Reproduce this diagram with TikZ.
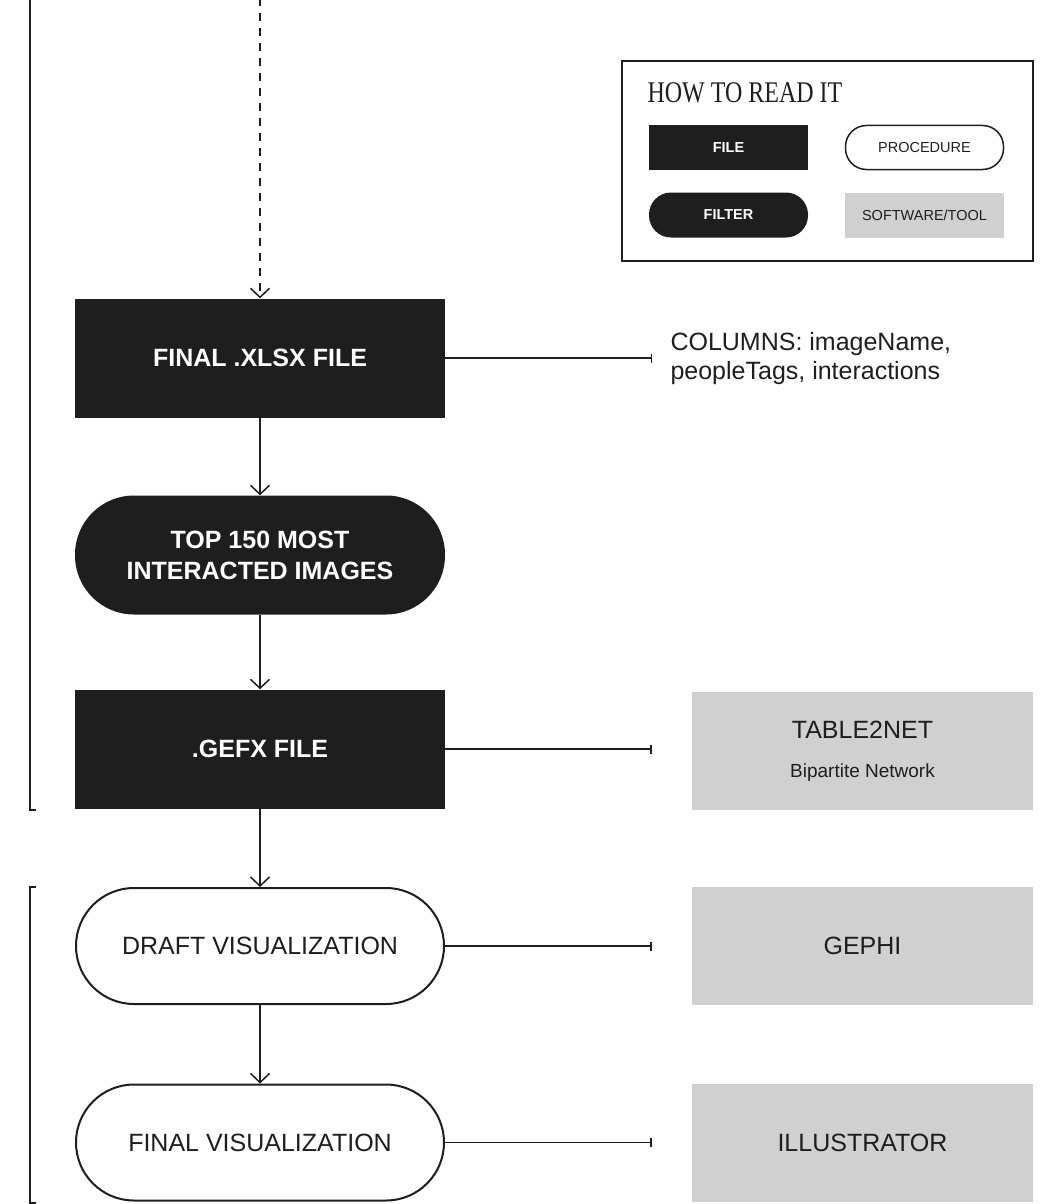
\documentclass[tikz,border=0pt]{standalone}
\usepackage{fontspec}
\setmainfont{Liberation Sans}
\newfontfamily\headfont[FakeStretch=0.8]{Liberation Serif}
\usetikzlibrary{positioning,arrows.meta}
\definecolor{flowInk}{HTML}{1E1E1E}
\definecolor{flowGrey}{HTML}{D0D0D0}

\begin{document}
\begin{tikzpicture}[x=1pt,y=-1pt,
          file/.style={rectangle, fill=flowInk, text=white, inner sep=0pt,
                    font=\fontsize{25}{31}\selectfont\bfseries,
                    minimum width=370pt, minimum height=119pt},
          filter/.style={file, rounded corners=59pt},
          proc/.style={rectangle, rounded corners=58pt, draw=flowInk, line width=2pt,
                    fill=white, text=flowInk, inner sep=0pt,
                    font=\fontsize{25}{31}\selectfont,
                    minimum width=368pt, minimum height=116pt},
          tool/.style={rectangle, fill=flowGrey, text=flowInk, inner sep=0pt,
                    font=\fontsize{25}{31}\selectfont,
                    minimum width=341pt, minimum height=118pt},
          keyfile/.style={rectangle, fill=flowInk, text=white, inner sep=0pt,
                    font=\fontsize{14.5}{17}\selectfont\bfseries,
                    minimum width=159pt, minimum height=45pt},
          keyfilter/.style={keyfile, rounded corners=22pt},
          keyproc/.style={rectangle, rounded corners=21pt, draw=flowInk, line width=1.5pt,
                    text=flowInk, inner sep=0pt, font=\fontsize{14.5}{17}\selectfont,
                    minimum width=158pt, minimum height=44pt},
          keytool/.style={rectangle, fill=flowGrey, text=flowInk, inner sep=0pt,
                    font=\fontsize{14.5}{17}\selectfont,
                    minimum width=159pt, minimum height=45pt},
          flow/.style={draw=flowInk, line width=1.5pt,
                    -{Straight Barb[length=9pt,width=19pt]}},
          link/.style={draw=flowInk, line width=1.5pt, -{Bar[width=9pt]}},
          every node/.style={align=center}]
        \useasboundingbox (0,0) rectangle (1057,1204);

        % key
        \node[draw=flowInk, line width=1.5pt, minimum width=411pt, minimum height=200pt,
              inner sep=0pt] (key) at (827.5,161) {};
        \node[anchor=base west, text=flowInk, font=\headfont\fontsize{30}{32}\selectfont]
              (keytitle) at (644,103) {HOW TO READ IT};
        \node[keyfile]   (kfile)   at (728.5,147.5) {FILE};
        \node[keyproc]   (kproc)   at (924.5,147.5) {PROCEDURE};
        \node[keyfilter] (kfilter) at (728.5,215)   {FILTER};
        \node[keytool]   (ktool)   at (924.5,215)   {SOFTWARE/TOOL};

        % main chain
        \coordinate (above) at (260,-2);
        \node[file]   (xlsx)  at (260,358)    {FINAL .XLSX FILE};
        \node[filter] (top)   at (260,555)    {TOP 150 MOST\\INTERACTED IMAGES};
        \node[file]   (gefx)  at (260,749)    {.GEFX FILE};
        \node[proc]   (draft) at (260,946)    {DRAFT VISUALIZATION};
        \node[proc]   (final) at (260,1142.5) {FINAL VISUALIZATION};

        % side notes
        \coordinate (colsend) at (652,358);
        \node[anchor=west, align=left, text=flowInk, font=\fontsize{25}{29}\selectfont]
              (cols) at (667,359) {COLUMNS: imageName,\\peopleTags, interactions};
        \node[tool] (t2n)    at (862.5,751)    {TABLE2NET\\[8pt]{\fontsize{19}{21}\selectfont Bipartite Network}};
        \node[tool] (gephi)  at (862.5,946)    {GEPHI};
        \node[tool] (illus)  at (862.5,1142.5) {ILLUSTRATOR};

        \draw[flow, dash pattern=on 8pt off 7pt] (above) -- (xlsx);
        \draw[flow] (xlsx) -- (top);
        \draw[flow] (top) -- (gefx);
        \draw[flow] (gefx) -- (draft);
        \draw[flow] (draft) -- (final);

        \draw[link] (xlsx) -- (colsend);
        \draw[link, shorten >=40pt] (gefx) -- (gefx -| t2n.west);
        \draw[link, shorten >=40pt] (draft) -- (gephi);
        \draw[link, shorten >=40pt] (final) -- (illus);

        % brackets
        \draw[flowInk, line width=2pt] (36,810) -- (30,810) -- (30,-2);
        \draw[flowInk, line width=2pt] (36,887) -- (30,887) -- (30,1203) -- (36,1203);
      \end{tikzpicture}
\end{document}
